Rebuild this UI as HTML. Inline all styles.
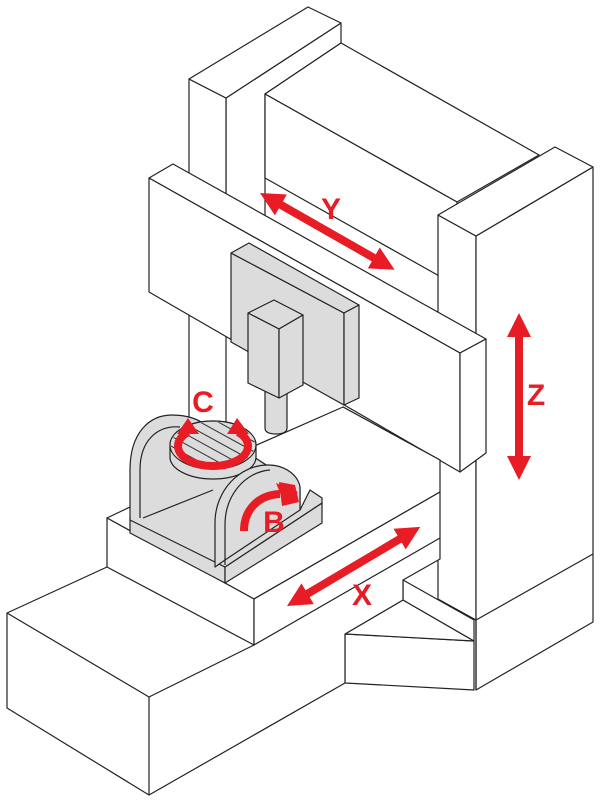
<!DOCTYPE html>
<html><head><meta charset="utf-8"><style>body{margin:0;background:#fff}svg{display:block}</style></head>
<body>
<svg width="600" height="803" viewBox="0 0 600 803" xmlns="http://www.w3.org/2000/svg">
<g stroke="#222" stroke-width="1.2" stroke-linejoin="round" fill="#fff">
<!-- left column -->
<polygon points="226,98 341,23 341,43 265,94 265,300 226,320"/>
<polygon points="189,79 226,98 226,520 189,520"/>
<polygon points="189,79 308,7 341,23 226,98"/>
<!-- back wall -->
<polygon points="265,94 341,43 539,155 457,202"/>
<polygon points="265,94 457,202 457,286 265,178"/>
<!-- lower base right bits -->
<polygon points="345,634 474,641 474,690 345,683"/>
<polygon points="345,634 403,600 474,641"/>
<polygon points="403,580 474,620 474,641 403,600"/>
<!-- right column -->
<polygon points="438,215 476,236 476,620 438,599"/>
<polygon points="476,236 593,167 593,622 476,690"/>
<polygon points="438,215 555,147 593,167 476,236"/>
<line x1="476" y1="620" x2="593" y2="554"/>
<line x1="476" y1="620" x2="476" y2="690"/>
<!-- beam -->
<polygon points="149,178 173,164 486,339 460,353"/>
<polygon points="149,178 460,353 460,472 149,292"/>
<polygon points="460,353 486,339 486,453 460,472"/>
<line x1="343" y1="407" x2="440" y2="460"/>
<!-- Z plate -->
<g fill="#dcdcdd">
<polygon points="231,253 344,313 344,405 231,342"/>
<polygon points="231,253 249,243 359,305 344,313"/>
<polygon points="344,313 359,305 359,398 344,405"/>
<!-- spindle -->
<path d="M265,390 L287,390 L287,428 Q287,434 276,434 Q265,434 265,428 Z"/>
<polygon points="248,313 274,300 303,315 279,329"/>
<polygon points="248,313 279,329 279,398 248,383"/>
<polygon points="279,329 303,315 303,385 279,398"/>
</g>
<!-- base -->
<polygon points="7,613 107,567 440,538 440,559 403,580 403,600 345,634 345,683 149,795 7,708"/>
<polyline fill="none" points="7,613 149,697 149,795"/>
<line x1="149" y1="697" x2="254" y2="645"/>
<!-- table -->
<polygon points="107,518 130,507 200,470 343,407 440,460 440,492 254,599"/>
<polygon points="107,518 254,599 254,645 107,567"/>
<polygon points="254,599 440,492 440,538 254,645"/>
<!-- fixture -->
<g fill="#dcdcdd">
<polygon points="130,517 225,567 225,583 130,533"/>
<polygon points="225,567 322,503 322,523 225,583"/>
<path d="M130,520 L130,470 C130,432 150,415 172,415 C188,415 200,420 205,425 L300,487 L300,510 L310,490 L322,498 L322,503 L225,567 Z"/>
<path d="M140,518 L140,470 C140,440 158,425 180,427" fill="none"/>
<line x1="143" y1="518" x2="213" y2="490"/>
<path d="M170,457 L170,445 A43,24 0 0,1 256,445 L256,457 A43,22 0 0,1 170,457 Z"/>
<ellipse cx="213" cy="445" rx="43" ry="24"/>
<path d="M215,567 L215,523 C215,490 240,465 268,465 C285,465 298,475 300,487 L300,510 L225,560 Z"/>
<path d="M225,565 L225,525 C225,495 245,472 270,470" fill="none"/>
</g>
<clipPath id="ct"><ellipse cx="213" cy="445" rx="42" ry="23"/></clipPath>
<g clip-path="url(#ct)" stroke="#333" stroke-width="1">
<line x1="160" y1="420" x2="260" y2="475"/><line x1="160" y1="410" x2="260" y2="465"/>
<line x1="160" y1="430" x2="260" y2="485"/><line x1="160" y1="400" x2="260" y2="455"/>
<line x1="160" y1="440" x2="260" y2="495"/><line x1="160" y1="390" x2="260" y2="445"/>
<line x1="160" y1="450" x2="260" y2="505"/><line x1="160" y1="380" x2="260" y2="435"/>
<line x1="160" y1="460" x2="260" y2="515"/><line x1="160" y1="370" x2="260" y2="425"/>
</g>
</g>
<!-- red arrows -->
<g fill="#e81c24">
<g transform="translate(260,193) rotate(29.7)"><polygon points="0,0 24,-12 24,-4 131,-4 131,-12 155,0 131,12 131,4 24,4 24,12"/></g>
<g transform="translate(519,313) rotate(90)"><polygon points="0,0 24,-12 24,-4 143,-4 143,-12 167,0 143,12 143,4 24,4 24,12"/></g>
<g transform="translate(287,606) rotate(-30.7)"><polygon points="0,0 24,-12 24,-4 131,-4 131,-12 155,0 131,12 131,4 24,4 24,12"/></g>
<path d="M188,432 A35,20 0 1,0 238,432" fill="none" stroke="#e81c24" stroke-width="8"/>
<polygon points="177,434 199,434 188,418"/>
<polygon points="227,434 249,434 237,418"/>
<path d="M244,531 C244,510 258,495 280,494" fill="none" stroke="#e81c24" stroke-width="8"/>
<polygon points="279,482 282,506 299,502 295,485"/>
<polygon points="276,483 298,492 285,505"/>
</g>
<g fill="#e81c24" font-family="Liberation Sans, sans-serif" font-weight="bold" font-size="30">
<text x="331" y="219" text-anchor="middle">Y</text>
<text x="536" y="405" text-anchor="middle">Z</text>
<text x="362" y="605" text-anchor="middle">X</text>
<text x="203" y="412" text-anchor="middle">C</text>
<text x="274" y="532" text-anchor="middle">B</text>
</g>
</svg>
</body></html>
